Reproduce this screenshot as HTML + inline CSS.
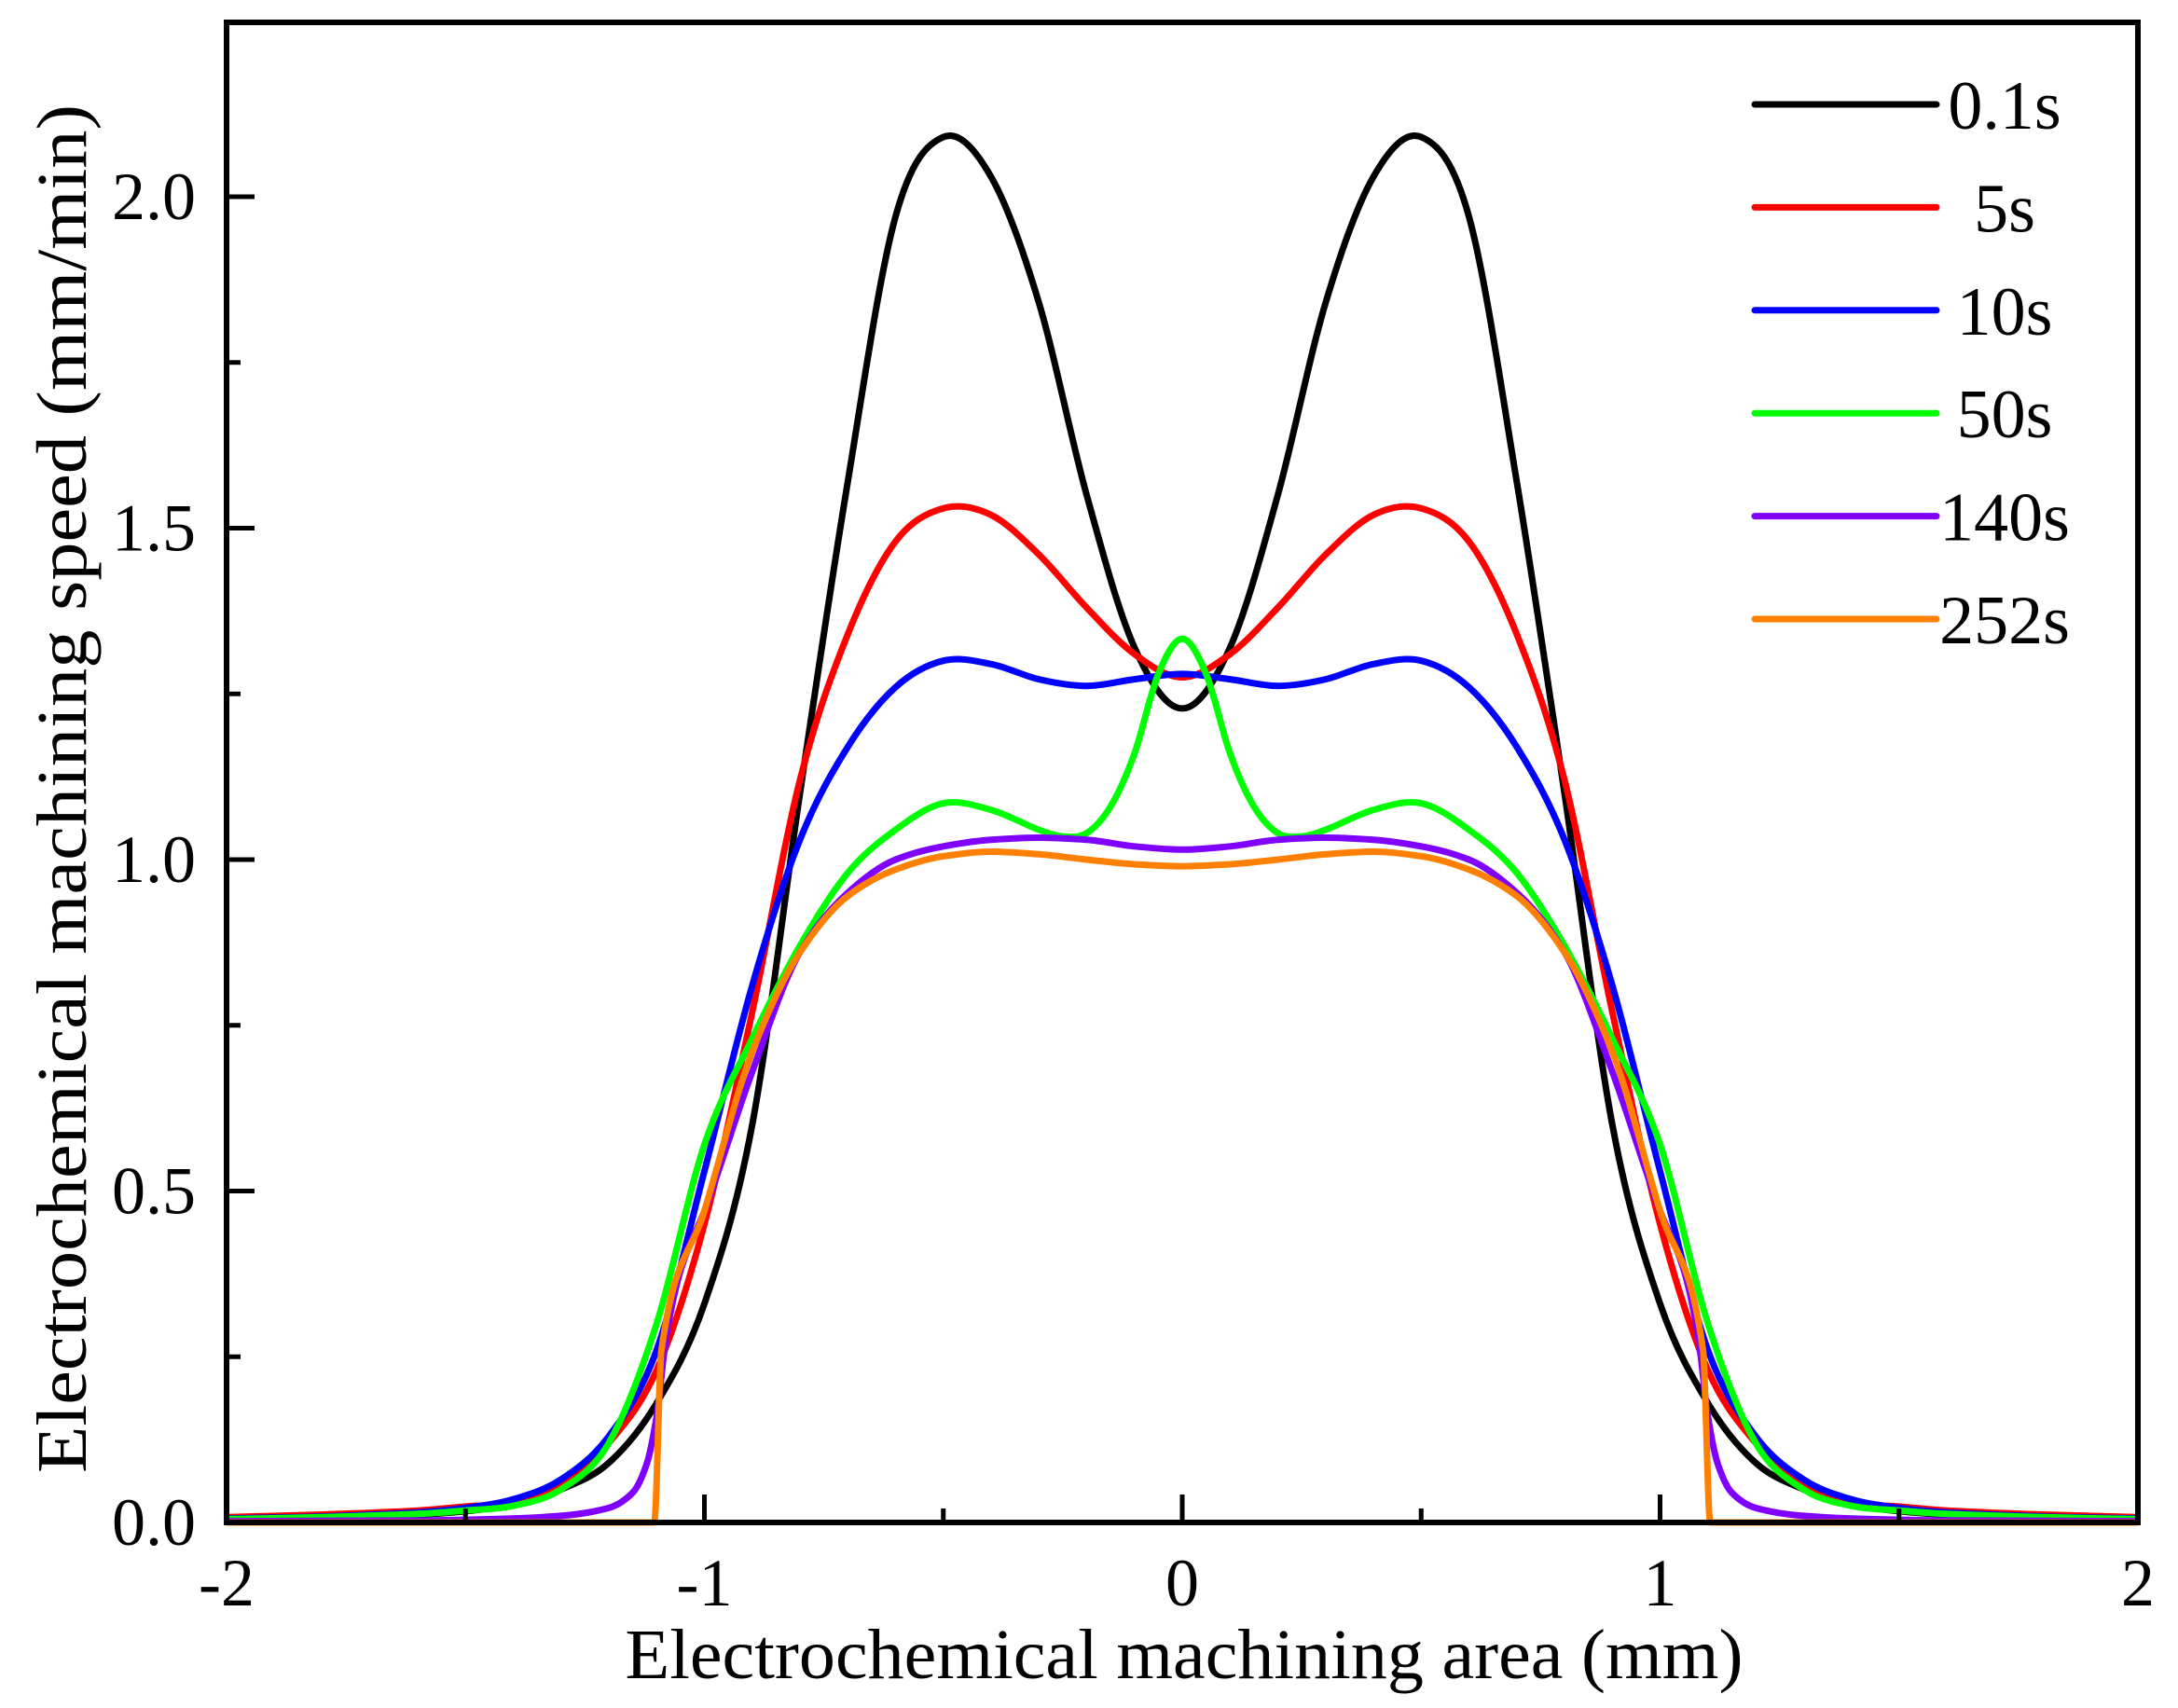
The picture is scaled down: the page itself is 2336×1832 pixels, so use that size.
<!DOCTYPE html>
<html><head><meta charset="utf-8"><style>
html,body{margin:0;padding:0;background:#fff;}
svg{display:block;}
text{font-family:"Liberation Serif",serif;fill:#000;}
</style></head><body>
<svg id="chart" width="2336" height="1832" viewBox="0 0 2336 1832" xmlns="http://www.w3.org/2000/svg">
<g id="series"></g>
<g id="axes"></g>
<g id="legend"></g>
<text x="1270" y="1800" font-size="76" text-anchor="middle" textLength="1199" lengthAdjust="spacingAndGlyphs">Electrochemical machining area (mm)</text>
<text transform="translate(92,846) rotate(-90)" font-size="76" text-anchor="middle" textLength="1468" lengthAdjust="spacingAndGlyphs">Electrochemical machining speed (mm/min)</text>
</svg>
<script>
const xTicks=[-2,-1,0,1,2];
const xTickLabels=["-2","-1","0","1","2"];
const xMinor=[-1.5,-0.5,0.5,1.5];
const yTicks=[0,0.5,1,1.5,2];
const yTickLabels=["0.0","0.5","1.0","1.5","2.0"];
const yMinor=[0.25,0.75,1.25,1.75];
const seriesNames=["0.1s","5s","10s","50s","140s","252s"];
const seriesColors=["#000000","#ff0000","#0000ff","#00ff00","#8000ff","#ff8000"];
const xsCommon=[-2,-1.8,-1.6,-1.5,-1.4,-1.3,-1.2,-1.1,-1.0,-0.9,-0.8,-0.7,-0.6,-0.5,-0.4,-0.3,-0.2,-0.1,0,0.1,0.2,0.3,0.4,0.5,0.6,0.7,0.8,0.9,1.0,1.1,1.2,1.3,1.4,1.5,1.6,1.8,2];
const yBlack=[0.005,0.008,0.012,0.017,0.027,0.05,0.09,0.18,0.33,0.6,1.10,1.57,1.97,2.09,2.03,1.84,1.55,1.32,1.228,1.32,1.55,1.84,2.03,2.09,1.97,1.57,1.10,0.6,0.33,0.18,0.09,0.05,0.027,0.017,0.012,0.008,0.005];
const yRed=[0.008,0.012,0.018,0.024,0.03,0.055,0.12,0.23,0.45,0.77,1.12,1.34,1.48,1.53,1.52,1.46,1.38,1.31,1.275,1.31,1.38,1.46,1.52,1.53,1.48,1.34,1.12,0.77,0.45,0.23,0.12,0.055,0.03,0.024,0.018,0.012,0.008];
const yBlue=[0.006,0.009,0.015,0.022,0.035,0.065,0.13,0.26,0.53,0.81,1.03,1.17,1.26,1.30,1.295,1.272,1.262,1.272,1.28,1.272,1.262,1.272,1.295,1.30,1.26,1.17,1.03,0.81,0.53,0.26,0.13,0.065,0.035,0.022,0.015,0.009,0.006];
const xGreen=[-2,-1.8,-1.6,-1.5,-1.4,-1.3,-1.2,-1.1,-1.0,-0.9,-0.8,-0.7,-0.6,-0.5,-0.4,-0.3,-0.25,-0.2,-0.15,-0.1,-0.05,0,0.05,0.1,0.15,0.2,0.25,0.3,0.4,0.5,0.6,0.7,0.8,0.9,1.0,1.1,1.2,1.3,1.4,1.5,1.6,1.8,2];
const yGreen=[0.005,0.008,0.013,0.018,0.025,0.05,0.12,0.3,0.57,0.73,0.87,0.98,1.045,1.085,1.075,1.045,1.035,1.04,1.08,1.16,1.28,1.333,1.28,1.16,1.08,1.04,1.035,1.045,1.075,1.085,1.045,0.98,0.87,0.73,0.57,0.3,0.12,0.05,0.025,0.018,0.013,0.008,0.005];
const xPurple=[-2,-1.6,-1.4,-1.3,-1.2,-1.15,-1.12,-1.1,-1.08,-1.05,-1.0,-0.9,-0.8,-0.7,-0.6,-0.5,-0.4,-0.3,-0.2,-0.1,0,0.1,0.2,0.3,0.4,0.5,0.6,0.7,0.8,0.9,1.0,1.05,1.08,1.1,1.12,1.15,1.2,1.3,1.4,1.6,2];
const yPurple=[0.002,0.003,0.006,0.01,0.022,0.045,0.09,0.16,0.28,0.38,0.47,0.68,0.86,0.95,1.0,1.02,1.03,1.033,1.03,1.02,1.015,1.02,1.03,1.033,1.03,1.02,1.0,0.95,0.86,0.68,0.47,0.38,0.28,0.16,0.09,0.045,0.022,0.01,0.006,0.003,0.002];
const xOrange=[-2,-1.105,-1.09,-1.0,-0.9,-0.8,-0.7,-0.6,-0.5,-0.4,-0.3,-0.2,-0.1,0,0.1,0.2,0.3,0.4,0.5,0.6,0.7,0.8,0.9,1.0,1.09,1.105,2];
const yOrange=[0,0,0.26,0.47,0.71,0.86,0.945,0.985,1.005,1.012,1.008,1.0,0.993,0.99,0.993,1.0,1.008,1.012,1.005,0.985,0.945,0.86,0.71,0.47,0.26,0,0];

const L=243,R=2293,T=24,B=1633;
function sx(v){return L+(v+2)/4*(R-L);}
function sy(v){return B-v*711;}
const NS="http://www.w3.org/2000/svg";
function mk(tag,attrs,parent){const e=document.createElementNS(NS,tag);for(const k in attrs)e.setAttribute(k,attrs[k]);parent.appendChild(e);return e;}

function monoPath(xs,ys){
  const n=xs.length,px=xs.map(sx),py=ys.map(sy);
  const d=[],m=new Array(n);
  for(let i=0;i<n-1;i++)d.push((py[i+1]-py[i])/(px[i+1]-px[i]));
  m[0]=d[0];m[n-1]=d[n-2];
  for(let i=1;i<n-1;i++){ if(d[i-1]*d[i]<=0)m[i]=0; else {const h0=px[i]-px[i-1],h1=px[i+1]-px[i];const w1=2*h1+h0,w2=h1+2*h0;m[i]=(w1+w2)/(w1/d[i-1]+w2/d[i]);} }
  let s="M"+px[0].toFixed(1)+","+py[0].toFixed(1);
  for(let i=0;i<n-1;i++){const h=(px[i+1]-px[i])/3;
    s+=" C"+(px[i]+h).toFixed(1)+","+(py[i]+m[i]*h).toFixed(1)+" "+(px[i+1]-h).toFixed(1)+","+(py[i+1]-m[i+1]*h).toFixed(1)+" "+px[i+1].toFixed(1)+","+py[i+1].toFixed(1);}
  return s;
}
function smoothPath(xs,ys){
  const n=xs.length,px=xs.map(sx),py=ys.map(sy),m=new Array(n);
  for(let i=0;i<n;i++){const a=Math.max(0,i-1),b=Math.min(n-1,i+1);m[i]=(py[b]-py[a])/(px[b]-px[a]);}
  let s="M"+px[0].toFixed(1)+","+py[0].toFixed(1);
  for(let i=0;i<n-1;i++){const h=(px[i+1]-px[i])/3;
    s+=" C"+(px[i]+h).toFixed(1)+","+(py[i]+m[i]*h).toFixed(1)+" "+(px[i+1]-h).toFixed(1)+","+(py[i+1]-m[i+1]*h).toFixed(1)+" "+px[i+1].toFixed(1)+","+py[i+1].toFixed(1);}
  return s;
}
const sg=document.getElementById('series');
const seriesX=[xsCommon,xsCommon,xsCommon,xGreen,xPurple,xOrange];
const seriesY=[yBlack,yRed,yBlue,yGreen,yPurple,yOrange];
for(let i=0;i<6;i++){
  const d=i<4?smoothPath(seriesX[i],seriesY[i]):monoPath(seriesX[i],seriesY[i]);
  const p=mk('path',{d:d,fill:'none',stroke:seriesColors[i],'stroke-width':7,'stroke-linejoin':'round'},sg);
  
  
}
const ag=document.getElementById('axes');
const frame=mk('rect',{x:L,y:T,width:R-L,height:B-T,fill:'none',stroke:'#000','stroke-width':6},ag);


xTicks.forEach((v,i)=>{
  const t=mk('line',{x1:sx(v),x2:sx(v),y1:B,y2:B-30,stroke:'#000','stroke-width':5},ag);
  
  
  const lb=mk('text',{x:sx(v),y:1722,'font-size':72,'text-anchor':'middle'},ag);lb.textContent=xTickLabels[i];
  
  
});
xMinor.forEach(v=>{
  const t=mk('line',{x1:sx(v),x2:sx(v),y1:B,y2:B-15,stroke:'#000','stroke-width':5},ag);
  
  
});
yTicks.forEach((v,i)=>{
  const t=mk('line',{x1:L,x2:L+30,y1:sy(v),y2:sy(v),stroke:'#000','stroke-width':5},ag);
  
  
  const lb=mk('text',{x:210,y:sy(v)+24,'font-size':72,'text-anchor':'end'},ag);lb.textContent=yTickLabels[i];
  
  
});
yMinor.forEach(v=>{
  const t=mk('line',{x1:L,x2:L+15,y1:sy(v),y2:sy(v),stroke:'#000','stroke-width':5},ag);
  
  
});
const lg=document.getElementById('legend');
seriesNames.forEach((nm,i)=>{
  const y=112+i*110.4;
  const ln=mk('line',{x1:1882,x2:2077,y1:y,y2:y,stroke:seriesColors[i],'stroke-width':7,'stroke-linecap':'round'},lg);
  
  
  const tx=mk('text',{x:2150,y:y+26,'font-size':74,'text-anchor':'middle'},lg);tx.textContent=nm;
  
  
});
</script>
</body></html>
